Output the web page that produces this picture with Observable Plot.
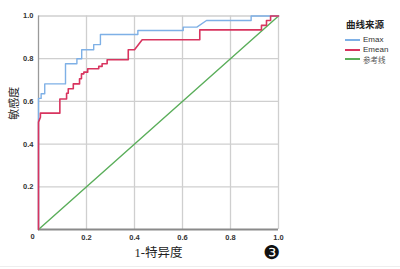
<!DOCTYPE html>
<html><head><meta charset="utf-8">
<script src="https://cdn.jsdelivr.net/npm/d3@7"></script>
<script src="https://cdn.jsdelivr.net/npm/@observablehq/plot@0.6"></script>
<style>
html,body{margin:0;padding:0;background:#fff;}
#wrap{position:relative;width:400px;height:269px;overflow:hidden;}
#legend{position:absolute;left:342px;top:17px;font-family:"Liberation Sans","Noto Sans CJK SC",sans-serif;}
#legend .t{font-weight:bold;font-size:9.5px;color:#222;margin-left:4px;margin-bottom:4px;font-family:"Noto Sans CJK SC",sans-serif;}
#legend .r{display:flex;align-items:center;height:9.7px;font-size:8px;color:#333;}
#legend .sw{display:inline-block;width:15px;height:2px;margin-right:3px;margin-left:3px;}
#note{position:absolute;left:263px;top:241px;font-family:"DejaVu Sans";font-size:19px;color:#111;}
#bline{position:absolute;left:0;top:266px;width:400px;height:1px;background:#eee;}
</style></head>
<body><div id="wrap"></div>
<script>
// tick values
const xTicks = [0.2, 0.4, 0.6, 0.8, 1.0];
const yTicks = [0.2, 0.4, 0.6, 0.8, 1.0];
// series
const seriesNames = ["Emax", "Emean", "参考线"];
const seriesColors = ["#7eb0e6", "#d8345f", "#5aae5a"];
const emaxX = [0, 0, 0.011, 0.011, 0.026, 0.026, 0.1125, 0.1125, 0.16, 0.16, 0.18, 0.18, 0.23, 0.23, 0.258, 0.258, 0.414, 0.414, 0.603, 0.603, 0.66, 0.70, 0.886, 0.886, 1.0];
const emaxY = [0, 0.614, 0.614, 0.636, 0.636, 0.682, 0.682, 0.776, 0.776, 0.80, 0.80, 0.842, 0.842, 0.866, 0.866, 0.913, 0.913, 0.932, 0.932, 0.948, 0.948, 0.979, 0.979, 1.0, 1.0];
const emeanX = [0, 0, 0.008, 0.008, 0.089, 0.089, 0.117, 0.117, 0.124, 0.124, 0.145, 0.145, 0.171, 0.171, 0.179, 0.179, 0.189, 0.189, 0.205, 0.205, 0.251, 0.251, 0.265, 0.265, 0.286, 0.286, 0.374, 0.374, 0.40, 0.432, 0.672, 0.672, 0.929, 0.929, 0.95, 0.95, 0.967, 0.967, 1.0];
const emeanY = [0, 0.503, 0.526, 0.545, 0.545, 0.611, 0.611, 0.638, 0.638, 0.659, 0.659, 0.682, 0.682, 0.706, 0.706, 0.729, 0.729, 0.737, 0.737, 0.753, 0.753, 0.764, 0.764, 0.776, 0.776, 0.795, 0.795, 0.842, 0.842, 0.889, 0.889, 0.935, 0.935, 0.956, 0.956, 0.979, 0.979, 1.0, 1.0];
const refX = [0, 1];
const refY = [0, 1];

const emax = emaxX.map((x, i) => ({x, y: emaxY[i]}));
const emean = emeanX.map((x, i) => ({x, y: emeanY[i]}));
const ref = refX.map((x, i) => ({x, y: refY[i]}));

const tickFont = {fontSize: 7.5, fontWeight: "bold", fill: "#333"};
const chart = Plot.plot({
  width: 400, height: 269,
  marginLeft: 38, marginRight: 122, marginTop: 15.5, marginBottom: 40,
  x: {domain: [0, 1]},
  y: {domain: [0, 1]},
  style: {background: "white", fontFamily: "Liberation Sans, Arial, sans-serif", overflow: "visible"},
  marks: [
    Plot.gridX(xTicks, {stroke: "#cfcfcf", strokeOpacity: 1, strokeWidth: 1.3}),
    Plot.gridY(yTicks, {stroke: "#cfcfcf", strokeOpacity: 1, strokeWidth: 1.3}),
    Plot.ruleX([0], {stroke: "#9a9a9a", strokeWidth: 1.3}),
    Plot.ruleY([0], {stroke: "#8a8a8a", strokeWidth: 2}),
    Plot.axisX(xTicks, {tickSize: 0, tickPadding: 5, tickFormat: d => d.toFixed(1), ...tickFont, label: null}),
    Plot.axisY(yTicks, {tickSize: 0, tickPadding: 5, tickFormat: d => d.toFixed(1), ...tickFont, label: null}),
    Plot.text([0], {x: 0, y: 0, text: d => "0", dx: -6, dy: 7, ...tickFont}),
    Plot.line(ref, {x: "x", y: "y", stroke: seriesColors[2], strokeWidth: 1.4}),
    Plot.line(emax, {x: "x", y: "y", stroke: seriesColors[0], strokeWidth: 1.4}),
    Plot.line(emean, {x: "x", y: "y", stroke: seriesColors[1], strokeWidth: 1.6}),
    Plot.text(["敏感度"], {frameAnchor: "left", text: d => d, rotate: -90, dx: -24, dy: -3, fontSize: 11, fill: "#222", fontFamily: "Noto Sans CJK SC"}),
    Plot.text(["1-特异度"], {frameAnchor: "bottom", text: d => d, dy: 27, dx: 0, fontSize: 12.5, fill: "#222", fontFamily: "Liberation Serif, Noto Sans CJK SC"})
  ]
});
const wrap = document.getElementById("wrap");
wrap.appendChild(chart);
const lg = document.createElement("div");
lg.id = "legend";
lg.innerHTML = `<div class="t">曲线来源</div>` + seriesNames.map((n, i) =>
  `<div class="r"><span class="sw" style="background:${seriesColors[i]}"></span><span style="${i==2?'font-family:Noto Sans CJK SC;color:#555;font-size:7.5px':''}">${n}</span></div>`).join("");
wrap.appendChild(lg);
const note = document.createElement("div"); note.id = "note"; note.textContent = "❸"; wrap.appendChild(note);
const bl = document.createElement("div"); bl.id = "bline"; wrap.appendChild(bl);
</script></body></html>
